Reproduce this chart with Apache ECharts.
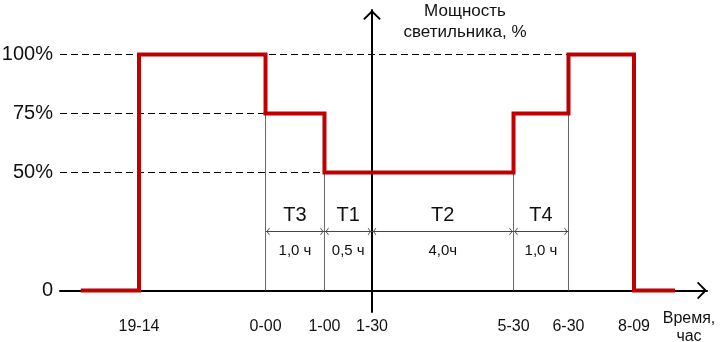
<!DOCTYPE html>
<html><head><meta charset="utf-8">
<script src="https://cdn.jsdelivr.net/npm/echarts@6/dist/echarts.min.js"></script>
<style>html,body{margin:0;padding:0;background:#fff}#c{width:723px;height:342px}</style>
</head><body><div id="c"></div>
<script>
// Schematic diagram (not to scale). Time positions in schematic units, 1-30 at 0.
const timeLabels = ['19-14', '0-00', '1-00', '1-30', '5-30', '6-30', '8-09'];
const timePos    = [-3.976, -1.817, -0.811, 0, 2.415, 3.353, 4.471];
const lineStartPos = -4.97;
const lineEndPos = 5.17;

// Power level (%) after each change point: start, 19-14, 0-00, 1-00, 5-30, 6-30, 8-09, end
const stepTimes  = ['start', '19-14', '0-00', '1-00', '5-30', '6-30', '8-09', 'end'];
const stepPower  = [0, 100, 75, 50, 75, 100, 0, 0];

// y tick labels
const powerLevels = [0, 50, 75, 100];

// dashed guide lines: level and where they end
const guideLevels = [100, 75, 50];
const guideEnds   = ['6-30', '0-00', '1-00'];

// thin vertical guides
const vGuideTimes  = ['0-00', '1-00', '5-30', '6-30'];
const vGuideLevels = [75, 50, 50, 75];

// intervals
const intervalNames = ['T3', 'T1', 'T2', 'T4'];
const intervalDur   = ['1,0 ч', '0,5 ч', '4,0ч', '1,0 ч'];
const intervalFrom  = ['0-00', '1-00', '1-30', '5-30'];
const intervalTo    = ['1-00', '1-30', '5-30', '6-30'];

// ---- layout ----
const X_MIN = -5.3242, X_MAX = 5.7167, Y_MIN = -9.111, Y_MAX = 118.856;
const DIM_LEVEL = 25;
const FONT = '"Liberation Sans", Arial, sans-serif';
const TXT = '#111';
const ARROW = 'path://M9,0 L18,9 L16.6,10.2 L9,2.8 L1.4,10.2 L0,9 Z';
const CH_R = 'path://M0,0 L10,8 L0,16 L0,13.6 L7,8 L0,2.4 Z';
const CH_L = 'path://M10,0 L0,8 L10,16 L10,13.6 L3,8 L10,2.4 Z';

function posOf(lbl) {
  if (lbl === 'start') return lineStartPos;
  if (lbl === 'end') return lineEndPos;
  return timePos[timeLabels.indexOf(lbl)];
}

const series = [];
guideLevels.forEach((lv, i) => {
  series.push({
    type: 'line', silent: true, symbol: 'none', z: 1,
    data: [[X_MIN, lv], [posOf(guideEnds[i]), lv]],
    lineStyle: { color: '#000', width: 1, type: [7, 4] }
  });
});
vGuideTimes.forEach((t, i) => {
  series.push({
    type: 'line', silent: true, symbol: 'none', z: 1,
    data: [[posOf(t), 0], [posOf(t), vGuideLevels[i]]],
    lineStyle: { color: '#666', width: 1 }
  });
});
intervalFrom.forEach((f, i) => {
  series.push({
    type: 'line', silent: true, z: 2, symbolSize: [5, 8], symbolKeepAspect: true,
    showSymbol: true,
    data: [
      { value: [posOf(f), DIM_LEVEL], symbol: CH_L, symbolOffset: [2.5, 0] },
      { value: [posOf(intervalTo[i]), DIM_LEVEL], symbol: CH_R, symbolOffset: [-2.5, 0] }
    ],
    itemStyle: { color: '#444' },
    lineStyle: { color: '#444', width: 1 }
  });
});
const mids = intervalFrom.map((f, i) => [(posOf(f) + posOf(intervalTo[i])) / 2, DIM_LEVEL]);
series.push({
  type: 'scatter', silent: true, symbolSize: 1, itemStyle: { color: 'rgba(0,0,0,0)', opacity: 1 },
  data: mids,
  label: { show: true, position: 'top', distance: 6, fontSize: 20, color: TXT, opacity: 1, fontFamily: FONT,
    formatter: p => intervalNames[p.dataIndex] }
});
series.push({
  type: 'scatter', silent: true, symbolSize: 1, itemStyle: { color: 'rgba(0,0,0,0)', opacity: 1 },
  data: mids,
  label: { show: true, position: 'bottom', distance: 11, fontSize: 15, color: TXT, opacity: 1, fontFamily: FONT,
    formatter: p => intervalDur[p.dataIndex] }
});
series.push({
  type: 'line', step: 'end', symbol: 'none', z: 5, silent: true,
  data: stepTimes.map((t, i) => [posOf(t), stepPower[i]]),
  lineStyle: { color: '#C00000', width: 4, join: 'miter', cap: 'butt' }
});

const chart = echarts.init(document.getElementById('c'), null, { renderer: 'canvas' });
chart.setOption({
  animation: false,
  backgroundColor: '#fff',
  grid: { left: 60, right: 16, top: 10, bottom: 30, containLabel: false, outerBoundsMode: 'none' },
  xAxis: {
    type: 'value', min: X_MIN, max: X_MAX,
    axisLine: { show: true, onZero: true, lineStyle: { color: '#000', width: 2 },
      symbol: ['none', ARROW], symbolSize: [18, 10], symbolOffset: [0, -5] },
    axisTick: { show: false }, splitLine: { show: false },
    axisLabel: {
      customValues: timePos, margin: 7, fontSize: 16, color: TXT, fontFamily: FONT, hideOverlap: false,
      formatter: v => { const i = timePos.findIndex(p => Math.abs(p - v) < 1e-6); return i >= 0 ? timeLabels[i] : ''; }
    },
    name: 'Время,\nчас', nameLocation: 'end', nameGap: -18,
    nameTextStyle: { align: 'center', verticalAlign: 'top', padding: [19, 0, 0, 0], fontSize: 16, lineHeight: 18, color: TXT, fontFamily: FONT }
  },
  yAxis: [{
    type: 'value', min: Y_MIN, max: Y_MAX,
    axisLine: { show: true, onZero: true, lineStyle: { color: '#000', width: 2 },
      symbol: ['none', ARROW], symbolSize: [18, 10], symbolOffset: [0, -5] },
    axisTick: { show: false }, axisLabel: { show: false }, splitLine: { show: false },
    name: 'Мощность\nсветильника, %', nameLocation: 'end', nameGap: 9,
    nameTextStyle: { align: 'center', verticalAlign: 'top', padding: [0, 0, 0, 186], fontSize: 17, lineHeight: 21, color: TXT, fontFamily: FONT }
  }, {
    type: 'value', min: Y_MIN, max: Y_MAX, position: 'left',
    axisLine: { show: false, onZero: false }, axisTick: { show: false }, splitLine: { show: false },
    axisLabel: { customValues: powerLevels, margin: 7, fontSize: 20, color: TXT, fontFamily: FONT,
      formatter: v => (v === 0 ? '0' : v + '%') }
  }],
  series: series
});
</script>
</body></html>
